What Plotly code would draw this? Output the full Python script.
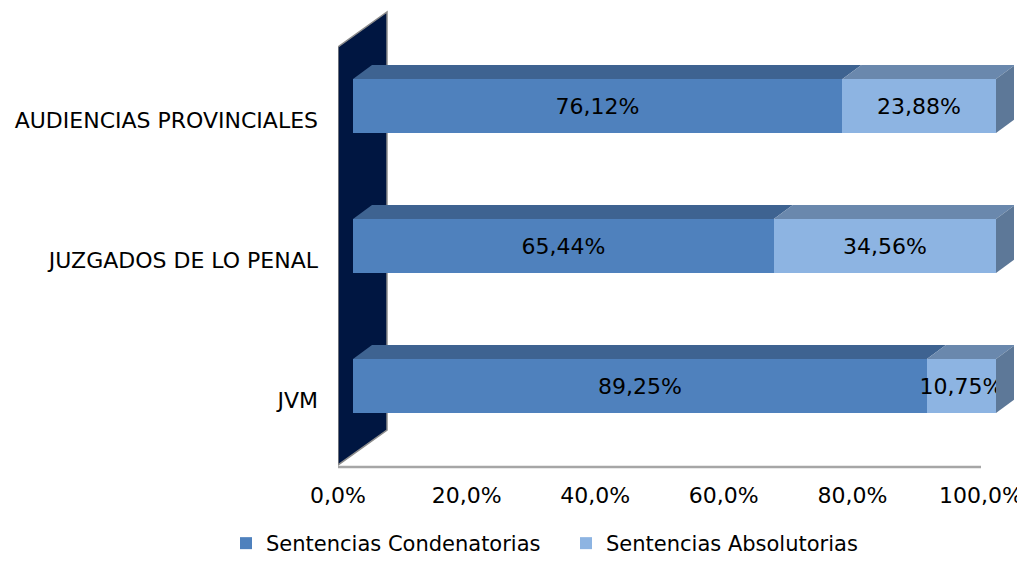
import plotly.graph_objects as go

# ---- data ----
categories = ["JVM", "JUZGADOS DE LO PENAL", "AUDIENCIAS PROVINCIALES"]
condenatorias = [89.25, 65.44, 76.12]
absolutorias = [10.75, 34.56, 23.88]
tick_values = [0, 20, 40, 60, 80, 100]
tick_labels = [f"{v:.1f}".replace(".", ",") + "%" for v in tick_values]
series_names = ["Sentencias Condenatorias", "Sentencias Absolutorias"]

# ---- styling / geometry constants ----
FONT = "Verdana, DejaVu Sans, sans-serif"
FS_CAT = 22
FS_TXT = 22
FS_TICK = 22
FS_LEG = 21
PAGE_OFF = 8                      # page body margin
W, H = 1025 - PAGE_OFF, 561 - PAGE_OFF
ML, MR = 338 - PAGE_OFF, 11
MT = 10 - PAGE_OFF
MB = H - (467 - PAGE_OFF)
plot_w = W - ML - MR
plot_h = H - MT - MB
px_per_x = 6.43      # pixels per percent
px_per_y = 140.0     # pixels per category
front_off_px = 15    # front faces shifted right from the floor edge
x_range = [-front_off_px / px_per_x, (plot_w - front_off_px) / px_per_x]
y0 = -(81 / px_per_y)
y_range = [y0, y0 + plot_h / px_per_y]
y2_0 = -(67 / px_per_y)
y2_range = [y2_0, y2_0 + plot_h / px_per_y]
x2_range = [0, plot_w / px_per_x]

bar_w = 54 / px_per_y
half = bar_w / 2
dx = 19 / px_per_x
dy = 14 / px_per_y

C_FRONT = ["#4F81BD", "#8DB4E2"]
C_TOP = ["#3E6391", "#6A88AD"]
C_SIDE = "#5D7898"

fig = go.Figure()

yidx = list(range(len(categories)))

# 3D top and side faces computed from data
for i in yidx:
    segs = [(0, condenatorias[i]), (condenatorias[i], condenatorias[i] + absolutorias[i])]
    yt = i + half
    for k, (a, b) in enumerate(segs):
        fig.add_trace(go.Scatter(
            x=[a, a + dx, b + dx, b, a], y=[yt, yt + dy, yt + dy, yt, yt],
            fill="toself", fillcolor=C_TOP[k], mode="lines",
            line=dict(width=0, color=C_TOP[k]), showlegend=False, hoverinfo="skip"))
    xe = segs[-1][1]
    yb = i - half
    fig.add_trace(go.Scatter(
        x=[xe, xe, xe + dx, xe + dx, xe], y=[yb, yt, yt + dy, yb + dy, yb],
        fill="toself", fillcolor=C_SIDE, mode="lines",
        line=dict(width=0, color=C_SIDE), showlegend=False, hoverinfo="skip"))

# front faces
for k, vals in enumerate([condenatorias, absolutorias]):
    fig.add_trace(go.Bar(
        y=yidx, x=vals, orientation="h", name=series_names[k],
        marker=dict(color=C_FRONT[k], line=dict(width=0)),
        width=bar_w, texttemplate="%{x:.2f}%", textposition="inside",
        insidetextanchor="middle", textangle=0, constraintext="none",
        textfont=dict(color="black", size=FS_TXT, family=FONT),
        xaxis="x", yaxis="y"))

# invisible trace to carry the label axes
fig.add_trace(go.Scatter(x=[0, 100], y=[0, 2], mode="markers",
                         marker=dict(opacity=0), xaxis="x2", yaxis="y2",
                         showlegend=False, hoverinfo="skip"))

# back wall
wx0 = x_range[0]
wdx = 49 / px_per_x
wdy = 35 / px_per_y
wall_top = y_range[0] + 420 / px_per_y
wall_bot = y_range[0] + 2 / px_per_y
path = (f"M {wx0},{wall_bot} L {wx0},{wall_top} L {wx0 + wdx},{wall_top + wdy} "
        f"L {wx0 + wdx},{wall_bot + wdy} Z")
shapes = [
    dict(type="path", path=path, xref="x", yref="y",
         fillcolor="#001641", line=dict(color="#8C8C8C", width=1.5), layer="below"),
    dict(type="line", xref="x2", yref="paper", x0=0, x1=100, y0=0, y1=0,
         line=dict(color="#A6A6A6", width=2.5)),
]

leg_left_px = 240 - PAGE_OFF - 14

fig.update_layout(
    width=W, height=H,
    margin=dict(l=ML, r=MR, t=MT, b=MB, autoexpand=False),
    paper_bgcolor="white", plot_bgcolor="white",
    separators=",.", barmode="stack", bargap=0,
    font=dict(family=FONT, size=FS_TICK, color="black"),
    shapes=shapes,
    xaxis=dict(range=x_range, visible=False, fixedrange=True),
    yaxis=dict(range=y_range, visible=False, fixedrange=True),
    xaxis2=dict(range=x2_range, overlaying="x", side="bottom",
                tickvals=tick_values, ticktext=tick_labels,
                showgrid=False, zeroline=False, showline=False, ticks="",
                ticklabelstandoff=13, tickfont=dict(size=FS_TICK, family=FONT, color="black")),
    yaxis2=dict(range=y2_range, overlaying="y", side="left",
                tickvals=yidx, ticktext=categories,
                showgrid=False, zeroline=False, showline=False, ticks="",
                ticklabelstandoff=19, tickfont=dict(size=FS_CAT, family=FONT, color="black")),
    legend=dict(orientation="h", x=(leg_left_px - ML) / plot_w, xanchor="left",
                y=-(MB + 3) / plot_h, yanchor="bottom",
                font=dict(size=FS_LEG, family=FONT, color="black"),
                entrywidth=295, entrywidthmode="pixels",
                itemsizing="constant", traceorder="normal"),
    showlegend=True,
)

fig.write_html("out.html")
